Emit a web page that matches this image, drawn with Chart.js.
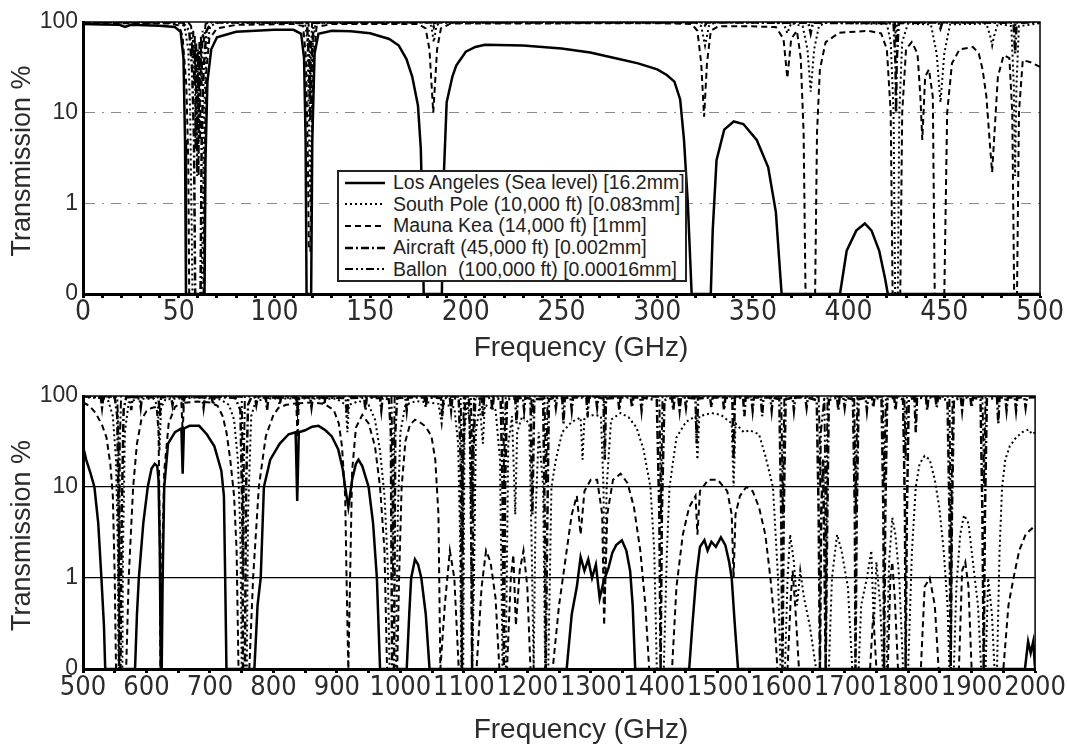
<!DOCTYPE html>
<html>
<head>
<meta charset="utf-8">
<script src="https://cdn.jsdelivr.net/npm/chart.js@4.4.1/dist/chart.umd.min.js"></script>
<style>
  html, body { margin: 0; padding: 0; background: #fff; }
  #wrap { position: relative; width: 1067px; height: 745px; overflow: hidden; }
  .cv { position: absolute; left: 0; width: 1067px; }
  #legend {
    position: absolute; left: 337px; top: 170px; width: 350px; height: 112px;
    box-sizing: border-box; border: 2px solid #222; background: #fff;
    padding: 0 0 0 4px; font: 19.5px "Liberation Sans", Arial, sans-serif; color: #222;
  }
  .row { display: flex; align-items: center; height: 21.6px; white-space: pre; }
  .row svg { width: 44px; height: 10px; margin-right: 6px; flex: none; }
</style>
</head>
<body>
<div id="wrap">
  <div class="cv" style="top:0;height:370px"><canvas id="chart-top"></canvas></div>
  <div class="cv" style="top:370px;height:375px"><canvas id="chart-bot"></canvas></div>
  <div id="legend"></div>
</div>
<script>
// Atmospheric transmission (%) vs frequency (GHz).
// "0" on the log axis stands for the 0.1 floor.
const SITE_LABELS = [
  'Los Angeles (Sea level) [16.2mm]',
  'South Pole (10,000 ft) [0.083mm]',
  'Mauna Kea (14,000 ft) [1mm]',
  'Aircraft (45,000 ft) [0.002mm]',
  'Ballon  (100,000 ft) [0.00016mm]',
];
const Y_TICKS = [0.1, 1, 10, 100];
const X_LABELS_TOP = [0, 50, 100, 150, 200, 250, 300, 350, 400, 450, 500];
const X_LABELS_BOT = [500, 600, 700, 800, 900, 1000, 1100, 1200, 1300, 1400, 1500, 1600, 1700, 1800, 1900, 2000];

// ---- 0 - 500 GHz ----
const LA_TOP = [[0,95],[10,94],[19,93],[22,88],[25,93],[40,91],[48,88],[51,78],[52.5,40],[53.3,5],[53.8,0.1],[63.5,0.1],[64,3],[65,22],[67,50],[70,68],[80,78],[100,82],[110,82],[114,74],[115.5,40],[116.3,5],[116.8,0.1],[119.2,0.1],[119.8,5],[121,45],[123,74],[130,80],[140,79],[150,75],[160,65],[165,55],[169,39],[172,25],[175,12],[176.5,4],[177.5,0.5],[178,0.1],[187.5,0.1],[188.5,2],[190,13],[193,25],[195,33],[200,47],[205,53],[210,56],[230,55],[250,51],[265,46],[280,39],[290,35],[300,30],[305,26],[309,22],[312,14],[314,5],[316,1],[318,0.1],[328,0.1],[329,0.5],[331,3],[335,6.5],[340,8],[345,7.5],[352,5],[358,2.5],[362,0.8],[365,0.1],[395.5,0.1],[399,0.3],[404,0.5],[408.5,0.6],[412,0.5],[416,0.3],[419,0.15],[420.5,0.1],[500,0.1]];
const SP_TOP = [[0,99],[50,98],[53,90],[55,50],[56,10],[56.8,0.5],[57.2,0.1],[62,0.1],[62.5,0.5],[63.3,10],[64.5,50],[66.5,90],[70,98],[116,97],[117.3,60],[118.2,5],[118.8,1],[119.3,5],[120.2,60],[121.5,97],[180,99],[182,90],[183.3,60],[184.6,90],[186.5,99],[320,99],[323,90],[325,55],[327,90],[330,99],[366,97],[368,75],[370,97],[376,90],[378.5,50],[380.2,17],[382,50],[384.5,90],[388,98],[420,95],[422,60],[423.5,10],[424.3,0.1],[425.7,0.1],[426.5,10],[428,60],[431,96],[443,94],[446,45],[448,13],[450,45],[453,94],[472,96],[474,70],[475,55],[476,70],[478,96],[485,90],[486.3,20],[487,2],[487.7,20],[489,90],[500,97]];
const MK_TOP = [[0,98],[45,96],[50,92],[52,70],[54,20],[55,3],[55.5,0.1],[63,0.1],[63.5,3],[64.5,30],[66,65],[70,85],[80,93],[110,95],[115,90],[116.5,40],[117.5,3],[118,0.3],[118.8,0.3],[119.5,3],[120.5,40],[122,88],[130,95],[175,95],[179,85],[181,50],[183,10],[185,50],[187,85],[192,96],[300,97],[318,95],[321,80],[323,35],[324.5,9],[326,35],[328,80],[332,90],[345,90],[362,88],[366,65],[368,24],[370,65],[373,80],[375,40],[376.5,6],[377.5,0.1],[382.5,0.1],[383.5,6],[385,30],[388,60],[395,76],[410,80],[417,75],[420,50],[422,10],[423,0.1],[427,0.1],[428,10],[430,50],[433,60],[436,45],[437.5,15],[438.5,5],[440,25],[442,30],[444,15],[445,0.1],[450,0.1],[451.5,10],[454,35],[458,50],[465,53],[468,45],[470,30],[472,15],[474,4],[475,2.2],[476,5],[478,25],[481,43],[484,40],[485.5,10],[486.5,0.1],[488,0.1],[489,10],[491,38],[495,36],[500,32]];
const AC_TOP = [[0,100],[52,99],[55.5,80],[57,30],[58,5],[58.6,0.1],[61.4,0.1],[62,5],[63,30],[64.5,80],[67,99],[117,98],[118,40],[118.75,8],[119.5,40],[120.5,98],[182.5,99],[183.3,88],[184.2,99],[324,99],[325,92],[326,99],[379,98],[380.2,75],[381.4,98],[423.5,97],[424.5,35],[424.8,10],[425.1,35],[426.2,97],[447,99],[448,85],[449,99],[486.2,98],[487,45],[487.8,98],[500,99]];
const BA_TOP = [[0,100],[55,99],[56.5,90],[57.2,40],[57.6,80],[58,20],[58.4,70],[58.8,4],[59.2,60],[59.6,2],[60,50],[60.4,2],[60.8,60],[61.2,5],[61.6,70],[62,20],[62.5,80],[63.3,60],[64,95],[66,100],[117.8,99],[118.4,50],[118.75,15],[119.1,50],[119.7,99],[182.8,100],[183.3,96],[183.8,100],[424.2,99],[424.75,60],[425.3,99],[486.6,99],[487,90],[487.4,99],[500,100]];

// ---- 500 - 2000 GHz ----
const LA_BOT = [[500,28],[505,20],[512,14],[518,10],[524,4],[529,1],[533,0.3],[535,0.1],[582,0.1],[585,0.4],[588,1],[595,4],[602,10],[608,16],[613,18],[617,17],[619,12],[621,2],[622.5,0.1],[624,0.1],[625.5,1],[628,10],[634,30],[645,40],[655,44],[657,14],[659,44],[668,47],[683,47],[695,38],[707,28],[718,15],[722,8],[724,1],[726,0.1],[770,0.1],[775,0.5],[780,1],[785,10],[795,20],[810,30],[824,38],[835,40],[837.5,7],[840,40],[850,42],[861,46],[871,47],[882,42],[892,36],[902,26],[909,16],[913,10],[918,6],[924,12],[930,18],[934,20],[940,17],[950,10],[957,4],[963,1],[968,0.1],[1010,0.1],[1014,0.4],[1017,1],[1023,1.6],[1028,1.4],[1033,1],[1040,0.4],[1046,0.1],[1262,0.1],[1270,0.4],[1278,0.8],[1284,1.7],[1290,1.2],[1296,1.6],[1302,1],[1308,1.4],[1314,0.6],[1320,0.9],[1328,1.3],[1334,1.9],[1340,2.3],[1349,2.6],[1356,2],[1362,1.2],[1366,0.5],[1370,0.1],[1455,0.1],[1460,0.3],[1466,1],[1472,2.2],[1479,2.6],[1484,2],[1490,2.5],[1497,2.2],[1505,2.8],[1512,2.3],[1518,1.5],[1522,1],[1527,0.3],[1532,0.1],[1984,0.1],[1989,0.2],[1993,0.15],[1997,0.2],[2000,0.1]];
const SP_BOT = [[500,97],[530,95],[540,88],[547,60],[552,20],[555,2],[556,0.1],[562,0.1],[563,2],[566,40],[572,85],[585,93],[612,93],[618,75],[620.5,25],[623,75],[630,92],[680,96],[715,92],[720,88],[730,80],[738,55],[744,20],[748,3],[750,0.1],[758,0.1],[760,5],[765,60],[772,88],[790,94],[836,94],[838,70],[840,94],[900,93],[914,80],[916.5,40],[919,80],[935,88],[950,80],[960,55],[968,25],[975,8],[980,1.5],[983,0.1],[993,0.1],[996,5],[1000,40],[1008,80],[1025,88],[1045,85],[1060,82],[1065,50],[1068,82],[1085,75],[1091,30],[1094,3],[1096,0.1],[1099,0.1],[1101,40],[1105,88],[1109,50],[1112,1],[1113,0.1],[1116,1],[1119,40],[1125,80],[1130,30],[1133,80],[1150,70],[1157,20],[1161,0.1],[1166,0.1],[1170,30],[1176,60],[1181,5],[1184,40],[1192,60],[1203,50],[1207,2],[1210,0.1],[1213,5],[1218,40],[1225,10],[1228,0.1],[1233,0.1],[1238,10],[1245,20],[1255,40],[1270,52],[1284,58],[1287,20],[1290,58],[1305,62],[1316,60],[1320,10],[1322,0.5],[1325,10],[1332,55],[1347,65],[1360,58],[1372,45],[1383,26],[1394,10],[1400,2],[1404,0.1],[1415,0.1],[1420,2],[1424,10],[1435,35],[1450,52],[1465,60],[1468,20],[1471,60],[1490,65],[1505,62],[1522,50],[1525,10],[1528,50],[1541,40],[1550,42],[1565,38],[1575,22],[1587,10],[1595,1],[1599,0.1],[1606,0.1],[1610,1],[1614,3],[1620,1.5],[1625,0.5],[1630,1.2],[1636,0.6],[1645,0.3],[1655,0.1],[1675,0.1],[1680,1],[1688,3],[1695,2],[1705,0.8],[1712,0.1],[1722,0.1],[1726,0.5],[1735,1],[1742,2],[1746,0.3],[1750,1.5],[1756,0.5],[1760,0.1],[1766,0.1],[1770,1.5],[1775,4.6],[1780,3],[1786,1],[1792,0.1],[1800,0.1],[1806,2],[1812,10],[1818,18],[1826,22],[1834,20],[1842,12],[1849,6],[1856,2],[1862,0.5],[1865,0.1],[1872,0.1],[1876,0.8],[1882,3],[1888,4.9],[1895,4],[1902,1.5],[1910,0.5],[1915,0.1],[1922,0.1],[1926,1],[1932,0.4],[1936,0.1],[1940,0.1],[1944,2],[1948,10],[1953,20],[1960,28],[1970,35],[1980,40],[1990,43],[1995,38],[2000,40]];
const MK_BOT = [[500,85],[510,78],[520,65],[530,48],[537,35],[543,18],[547,8],[550,1],[552,0.1],[568,0.1],[572,1],[579,10],[585,30],[592,55],[600,68],[608,74],[616,76],[619,40],[621,3],[622,0.1],[623,0.1],[625,2],[628,15],[635,50],[645,76],[655,84],[657,40],[659,84],[680,87],[700,85],[712,78],[720,60],[726,40],[732,20],[738,8],[742,2],[745,0.1],[762,0.1],[768,1],[777,10],[788,36],[800,62],[808,74],[820,80],[836,83],[838,35],[840,83],[861,85],[880,82],[895,70],[903,50],[908,28],[913,8],[916,0.5],[918,0.1],[920,0.5],[924,15],[930,45],[940,62],[950,50],[960,28],[968,10],[975,2],[979,0.1],[995,0.1],[998,1],[1002,10],[1008,32],[1015,48],[1023,55],[1030,52],[1040,46],[1049,36],[1055,20],[1060,5],[1063,0.1],[1070,0.5],[1078,2],[1085,1],[1092,0.1],[1120,0.1],[1128,0.8],[1135,2],[1142,1.5],[1150,0.6],[1156,0.1],[1168,0.1],[1174,1],[1178,1.8],[1182,0.3],[1188,1.2],[1194,2],[1200,0.8],[1205,0.1],[1240,0.1],[1250,0.5],[1262,2],[1270,5],[1278,8],[1284,3],[1290,9],[1300,12],[1310,12],[1318,5],[1321,0.3],[1326,5],[1335,12],[1347,14],[1358,11],[1368,6],[1378,2],[1386,0.5],[1392,0.1],[1428,0.1],[1435,0.8],[1445,3],[1455,6],[1465,8],[1468,3],[1472,9],[1485,12],[1500,12],[1515,9],[1522,5],[1525,1],[1528,5],[1535,8],[1545,10],[1555,9],[1565,6],[1575,3],[1583,1],[1590,0.3],[1594,0.1],[1610,0.1],[1615,0.6],[1618,1.2],[1622,0.5],[1628,0.1],[1740,0.1],[1745,0.4],[1750,0.1],[1768,0.1],[1772,1],[1775,1.5],[1779,0.6],[1784,0.1],[1820,0.1],[1826,0.8],[1834,1],[1842,0.5],[1848,0.1],[1880,0.1],[1885,1.2],[1890,1.5],[1895,0.8],[1900,0.1],[1950,0.1],[1958,0.5],[1966,1],[1975,2],[1985,3],[1995,3.5],[2000,3.2]];
const AC_BOT = [[500,99],[528,97],[530,75],[532,97],[550,97],[554,60],[556,5],[557,0.1],[559,0.1],[561,5],[564,70],[568,97],[574,97],[576,70],[578,97],[589,97],[591,75],[593,97],[619,97],[621,60],[623,97],[639,97],[641,80],[643,97],[656,98],[658,80],[660,98],[688,97],[690,75],[692,97],[703,97],[705,80],[707,97],[720,97],[740,95],[748,70],[751,5],[752,0.1],[755,0.1],[757,10],[760,80],[765,96],[771,96],[773,80],[775,96],[788,96],[790,70],[792,96],[808,96],[810,80],[812,96],[836,96],[838,70],[840,96],[858,96],[860,75],[862,96],[878,96],[880,80],[882,96],[914,95],[916,60],[918,95],[943,96],[945,70],[947,96],[968,95],[970,70],[972,95],[982,92],[985,40],[987,0.1],[990,0.1],[992,40],[995,95],[1008,96],[1010,70],[1012,96],[1038,96],[1040,75],[1042,96],[1064,95],[1066,60],[1068,95],[1078,96],[1080,70],[1082,96],[1092,92],[1095,20],[1097,0.1],[1099,20],[1102,94],[1108,94],[1111,20],[1113,0.1],[1115,20],[1118,94],[1128,94],[1130,60],[1132,94],[1143,96],[1145,70],[1147,96],[1158,92],[1161,10],[1163,0.1],[1165,10],[1168,92],[1181,94],[1183,50],[1185,94],[1193,96],[1195,70],[1197,96],[1205,93],[1208,5],[1211,93],[1225,92],[1228,2],[1229,0.1],[1231,2],[1234,92],[1243,96],[1245,75],[1247,96],[1255,95],[1257,50],[1259,95],[1268,96],[1270,70],[1272,96],[1293,96],[1295,60],[1297,96],[1308,96],[1310,75],[1312,96],[1320,94],[1322,20],[1324,94],[1343,96],[1345,70],[1347,96],[1363,96],[1365,75],[1367,96],[1378,96],[1380,70],[1382,96],[1404,90],[1408,5],[1410,0.1],[1412,5],[1416,90],[1428,96],[1430,70],[1432,96],[1438,95],[1440,70],[1442,95],[1448,96],[1450,75],[1452,96],[1465,94],[1467,30],[1469,94],[1488,96],[1490,75],[1492,96],[1508,96],[1510,70],[1512,96],[1523,94],[1525,20],[1527,94],[1540,96],[1542,60],[1544,96],[1553,96],[1555,70],[1557,96],[1568,96],[1570,60],[1572,96],[1583,96],[1585,70],[1587,96],[1597,92],[1600,5],[1602,0.1],[1604,5],[1607,92],[1618,96],[1620,70],[1622,96],[1638,96],[1640,75],[1642,96],[1656,90],[1659,5],[1661,0.1],[1663,5],[1666,20],[1668,2],[1670,0.1],[1672,2],[1675,90],[1688,96],[1690,70],[1692,96],[1698,96],[1700,75],[1702,96],[1713,92],[1716,5],[1717,0.1],[1719,5],[1722,92],[1733,96],[1735,70],[1737,96],[1743,96],[1745,75],[1747,96],[1758,92],[1761,5],[1762,0.1],[1764,5],[1767,92],[1778,96],[1780,70],[1782,96],[1792,92],[1795,5],[1796,0.1],[1798,5],[1801,92],[1810,95],[1812,40],[1814,95],[1828,96],[1830,70],[1832,96],[1843,96],[1845,75],[1847,96],[1862,90],[1865,5],[1867,0.1],[1869,5],[1872,90],[1883,96],[1885,70],[1887,96],[1898,96],[1900,75],[1902,96],[1914,92],[1917,5],[1919,0.1],[1921,5],[1924,92],[1940,96],[1942,50],[1944,96],[1953,96],[1955,70],[1957,96],[1968,96],[1970,70],[1972,96],[1983,96],[1985,75],[1987,96],[2000,97]];
const BA_BOT = [[500,100],[554,98],[556,30],[557,0.1],[558,30],[560,99],[750,98],[751.5,20],[752.5,1],[753.5,20],[755,99],[836,99],[838,85],[840,99],[986,98],[987.5,15],[988.5,1],[989.5,15],[991,99],[1095,98],[1096.5,20],[1097.5,2],[1098.5,20],[1100,99],[1111,98],[1112.5,30],[1113.5,5],[1114.5,30],[1116,99],[1161,98],[1162.5,40],[1163.5,10],[1164.5,40],[1166,99],[1206,99],[1208,60],[1210,99],[1227,98],[1228.5,30],[1229.5,10],[1230.5,30],[1232,99],[1320,99],[1322,70],[1324,99],[1408,98],[1409.5,20],[1410.5,5],[1411.5,20],[1413,99],[1600,98],[1601.5,20],[1602.5,5],[1603.5,20],[1605,99],[1659,98],[1660.5,40],[1661.5,10],[1662.5,40],[1668,98],[1669.5,10],[1670.5,0.1],[1671.5,10],[1673,99],[1715,98],[1716.5,20],[1717.5,5],[1718.5,20],[1720,99],[1760,98],[1761.5,30],[1762.5,10],[1763.5,30],[1765,99],[1794,99],[1796,20],[1798,99],[1865,98],[1866.5,10],[1867.5,0.1],[1868.5,10],[1870,99],[1917,98],[1918.5,30],[1919.5,10],[1920.5,30],[1922,99],[2000,100]];

// line looks: solid, dotted, dashed, dash-dot, dash-dot-dot
const STYLES = [
  { width: 2.5, dash: [] },
  { width: 2, dash: [2, 3] },
  { width: 2, dash: [6, 4] },
  { width: 2.5, dash: [8, 3, 2, 3] },
  { width: 2, dash: [8, 3, 2, 3, 2, 3] },
];

const TEXT = '#2b2b2b';
const SANS = '"Liberation Sans", Arial, sans-serif';
const NARROW = '"Liberation Sans Narrow", "DejaVu Sans Condensed", "Liberation Sans", sans-serif';

function framePlugin(cfg) {
  return {
    id: 'frameAndTitles',
    afterDraw(chart) {
      const { ctx, chartArea: a } = chart;
      ctx.save();
      ctx.strokeStyle = '#000';
      ctx.lineWidth = 1.5;
      ctx.strokeRect(a.left, a.top, a.right - a.left, a.bottom - a.top);
      ctx.fillStyle = TEXT;
      ctx.font = `28px ${SANS}`;
      ctx.textAlign = 'center';
      ctx.textBaseline = 'middle';
      ctx.fillText('Frequency (GHz)', 581, a.bottom + cfg.titleDy);
      ctx.translate(23, (a.top + a.bottom) / 2 + 3);
      ctx.rotate(-Math.PI / 2);
      ctx.font = `27px ${SANS}`;
      ctx.fillText('Transmission %', 0, 0);
      ctx.restore();
    },
  };
}

function buildChart(canvasId, seriesList, cfg) {
  return new Chart(document.getElementById(canvasId), {
    type: 'line',
    data: {
      datasets: seriesList.map((pts, i) => ({
        label: SITE_LABELS[i],
        data: pts.map(([x, y]) => ({ x, y })),
        borderColor: '#000',
        borderWidth: STYLES[i].width,
        borderDash: STYLES[i].dash,
        pointRadius: 0,
        tension: 0,
        fill: false,
      })).reverse(),
    },
    options: {
      animation: false, responsive: true, maintainAspectRatio: false, events: [],
      layout: { padding: { top: cfg.padTop, right: 27, left: 0, bottom: 0 } },
      plugins: { legend: { display: false }, tooltip: { enabled: false } },
      scales: {
        x: {
          type: 'linear', min: cfg.xMin, max: cfg.xMax,
          afterFit: s => { s.height = cfg.xAxisH; },
          afterBuildTicks: s => {
            const t = [];
            for (let v = cfg.xMin; v <= cfg.xMax; v += cfg.minor) t.push({ value: v });
            s.ticks = t;
          },
          ticks: {
            autoSkip: false, maxRotation: 0, padding: 1, color: TEXT,
            font: { family: NARROW, size: cfg.xFont, lineHeight: 1 },
            callback: v => cfg.labels.includes(v) ? String(v) : '',
          },
          grid: { drawOnChartArea: false, drawTicks: true, tickLength: 4, tickWidth: 3, tickColor: '#000' },
          border: { display: true, color: '#000', width: 3 },
        },
        y: {
          type: 'logarithmic', min: 0.1, max: 100,
          afterFit: s => { s.width = 83; },
          afterBuildTicks: s => { s.ticks = Y_TICKS.map(v => ({ value: v })); },
          ticks: {
            padding: 5, color: TEXT,
            font: { family: SANS, size: 23, lineHeight: 1 },
            callback: v => (v === 0.1 ? '0' : String(v)),
          },
          grid: {
            drawTicks: false,
            lineWidth: cfg.gridW,
            color: c => (c.tick && (c.tick.value === 1 || c.tick.value === 10)) ? cfg.gridColor : 'rgba(0,0,0,0)',
          },
          border: { display: true, color: '#000', width: 3, dash: cfg.gridDash },
        },
      },
    },
    plugins: [framePlugin(cfg)],
  });
}

buildChart('chart-top', [LA_TOP, SP_TOP, MK_TOP, AC_TOP, BA_TOP], {
  xMin: 0, xMax: 500, minor: 10, labels: X_LABELS_TOP, xFont: 28,
  padTop: 22, xAxisH: 76, titleDy: 54,
  gridColor: '#8a8a8a', gridW: 1, gridDash: [10, 7, 2, 7],
});
buildChart('chart-bot', [LA_BOT, SP_BOT, MK_BOT, AC_BOT, BA_BOT], {
  xMin: 500, xMax: 2000, minor: 50, labels: X_LABELS_BOT, xFont: 27,
  padTop: 26, xAxisH: 76, titleDy: 61,
  gridColor: '#000', gridW: 1.2, gridDash: [],
});

// legend box inside the upper plot
const legend = document.getElementById('legend');
SITE_LABELS.forEach((label, i) => {
  const row = document.createElement('div');
  row.className = 'row';
  const dash = STYLES[i].dash.length ? STYLES[i].dash.join(' ') : 'none';
  row.innerHTML = `<svg viewBox="0 0 44 10"><line x1="2" y1="5" x2="42" y2="5" stroke="#000" stroke-width="${STYLES[i].width}" stroke-dasharray="${dash}"/></svg><span>${label}</span>`;
  legend.appendChild(row);
});
</script>
</body>
</html>
